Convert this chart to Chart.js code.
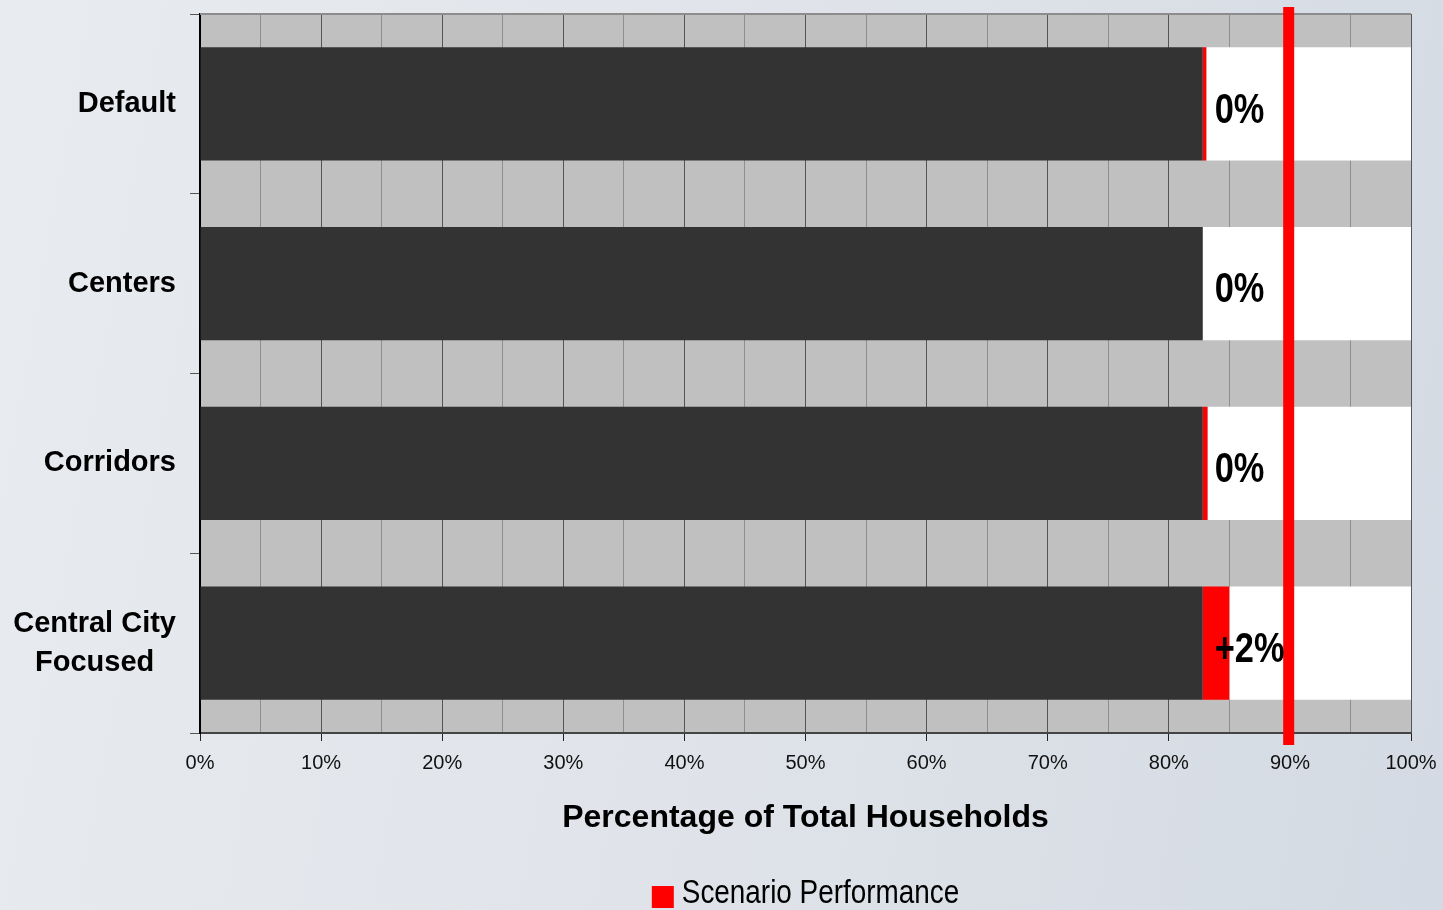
<!DOCTYPE html>
<html lang="en">
<head>
    <meta charset="UTF-8">
    <title>Percentage of Total Households</title>
    <script src="https://cdn.jsdelivr.net/npm/chart.js"></script>
    <style>
        html, body { margin: 0; padding: 0; }
        body { width: 1443px; height: 910px; overflow: hidden;
               background: linear-gradient(100deg, #e8ebef 0%, #dfe3e9 55%, #d3dae3 100%); }
        #wrap { position: relative; width: 1443px; height: 910px; }
    </style>
</head>
<body>
    <div id="wrap"><canvas id="householdsChart"></canvas></div>

    <script>
        // data
        const categories = [["Default"], ["Centers"], ["Corridors"], ["Central City", "Focused"]];
        const baseShare = [82.8, 82.8, 82.8, 82.8];      // dark part
        const scenarioGain = [0.3, 0, 0.4, 2.2];         // red part (Scenario Performance)
        const targetShare = 89.9;                        // red vertical line
        const xTicks = [0, 10, 20, 30, 40, 50, 60, 70, 80, 90, 100];
        const remainder = baseShare.map((b, i) => 100 - b - scenarioGain[i]);

        const LABEL_FONT = "'Liberation Sans', Arial, sans-serif";

        // draw text squeezed horizontally (narrow look)
        function narrowText(ctx, txt, x, y, sx, align) {
            ctx.save();
            ctx.translate(x, y);
            ctx.scale(sx, 1);
            ctx.textAlign = align;
            ctx.fillText(txt, 0, 0);
            ctx.restore();
        }

        // grey plot background + top frame line
        const plotBg = {
            id: "plotBg",
            beforeDraw(chart) {
                const { ctx, chartArea: a } = chart;
                ctx.save();
                ctx.fillStyle = "#c0c0c0";
                ctx.fillRect(a.left, a.top, a.right - a.left, a.bottom - a.top);
                ctx.restore();
            },
            beforeDatasetsDraw(chart) {
                const { ctx, chartArea: a } = chart;
                ctx.save();
                ctx.strokeStyle = "#8c8c8c";
                ctx.lineWidth = 2;
                ctx.beginPath();
                ctx.moveTo(a.left, a.top);
                ctx.lineTo(a.right, a.top);
                ctx.stroke();
                ctx.restore();
            }
        };

        // value labels, target line, category labels and legend
        const extras = {
            id: "extras",
            afterDatasetsDraw(chart) {
                const { ctx, chartArea: a, scales: { x, y } } = chart;
                ctx.save();
                // target line
                const tx = x.getPixelForValue(targetShare);
                ctx.strokeStyle = "#ff0000";
                ctx.lineWidth = 11;
                ctx.beginPath();
                ctx.moveTo(tx, a.top - 7);
                ctx.lineTo(tx, a.bottom + 12);
                ctx.stroke();

                // value labels
                ctx.fillStyle = "#000";
                ctx.font = "bold 43px " + LABEL_FONT;
                ctx.textBaseline = "middle";
                categories.forEach((c, i) => {
                    const g = Math.round(scenarioGain[i]);
                    const txt = g === 0 ? "0%" : "+" + g + "%";
                    const px = x.getPixelForValue(baseShare[i]) + 12;
                    const py = y.getPixelForValue(i) + 7;
                    narrowText(ctx, txt, px, py, 0.8, "left");
                });
                ctx.restore();
            },
            afterDraw(chart) {
                const { ctx, chartArea: a, scales: { y } } = chart;
                ctx.save();
                // category labels: block right aligned, lines centred in block
                ctx.fillStyle = "#000";
                ctx.font = "bold 29px " + LABEL_FONT;
                ctx.textAlign = "center";
                ctx.textBaseline = "middle";
                const right = a.left - 24;
                categories.forEach((lines, i) => {
                    const w = Math.max(...lines.map(l => ctx.measureText(l).width));
                    const cy = y.getPixelForValue(i);
                    const lh = 39;
                    lines.forEach((l, k) => {
                        ctx.fillText(l, right - w / 2, cy + (k - (lines.length - 1) / 2) * lh);
                    });
                });

                // axis title
                ctx.font = "bold 32px " + LABEL_FONT;
                ctx.fillText("Percentage of Total Households", (a.left + a.right) / 2, 818);

                // legend
                const text = "Scenario Performance";
                const sx = 0.82;
                ctx.font = "34px " + LABEL_FONT;
                const tw = ctx.measureText(text).width * sx;
                const box = 22, gap = 8;
                const cx = (a.left + a.right) / 2;
                const startX = cx - (box + gap + tw) / 2;
                const ly = 894;
                ctx.fillStyle = "#ff0000";
                ctx.fillRect(startX, ly - box / 2 + 3, box, box);
                ctx.fillStyle = "#000";
                narrowText(ctx, text, startX + box + gap, ly, sx, "left");
                ctx.restore();
            }
        };

        const ctx = document.getElementById("householdsChart").getContext("2d");
        new Chart(ctx, {
            type: "bar",
            data: {
                labels: categories,
                datasets: [
                    { label: "Base", data: baseShare, backgroundColor: "#333333" },
                    { label: "Scenario Performance", data: scenarioGain, backgroundColor: "#ff0000" },
                    { label: "Remaining", data: remainder, backgroundColor: "#ffffff" }
                ]
            },
            options: {
                indexAxis: "y",
                responsive: true,
                maintainAspectRatio: false,
                animation: false,
                barPercentage: 0.63,
                categoryPercentage: 1,
                layout: { padding: { top: 14, right: 32, left: 0, bottom: 0 } },
                plugins: {
                    legend: { display: false },
                    tooltip: { enabled: false }
                },
                scales: {
                    x: {
                        stacked: true,
                        min: 0,
                        max: 100,
                        afterBuildTicks(scale) {
                            const t = [];
                            for (let v = 0; v <= 100; v += 5) t.push({ value: v });
                            scale.ticks = t;
                        },
                        afterFit(scale) {
                            scale.height = 177;
                            scale.paddingLeft = 0;
                            scale.paddingRight = 0;
                        },
                        ticks: {
                            autoSkip: false,
                            maxRotation: 0,
                            padding: 10,
                            color: "#111",
                            font: { family: LABEL_FONT, size: 20 },
                            callback: v => xTicks.includes(v) ? v + "%" : ""
                        },
                        grid: {
                            color: c => (c.tick && c.tick.value % 10 === 0) ? "#555555" : "#8e8e8e",
                            tickColor: c => (c.tick && c.tick.value % 10 === 0) ? "#222222" : "rgba(0,0,0,0)",
                            lineWidth: 1,
                            tickLength: 8
                        },
                        border: { color: "#444444", width: 2 }
                    },
                    y: {
                        stacked: true,
                        afterFit(scale) { scale.width = 200; },
                        ticks: { display: false },
                        grid: {
                            offset: true,
                            drawOnChartArea: false,
                            tickLength: 10,
                            tickColor: "#555555"
                        },
                        border: { color: "#000000", width: 2 }
                    }
                }
            },
            plugins: [plotBg, extras]
        });
    </script>
</body>
</html>
